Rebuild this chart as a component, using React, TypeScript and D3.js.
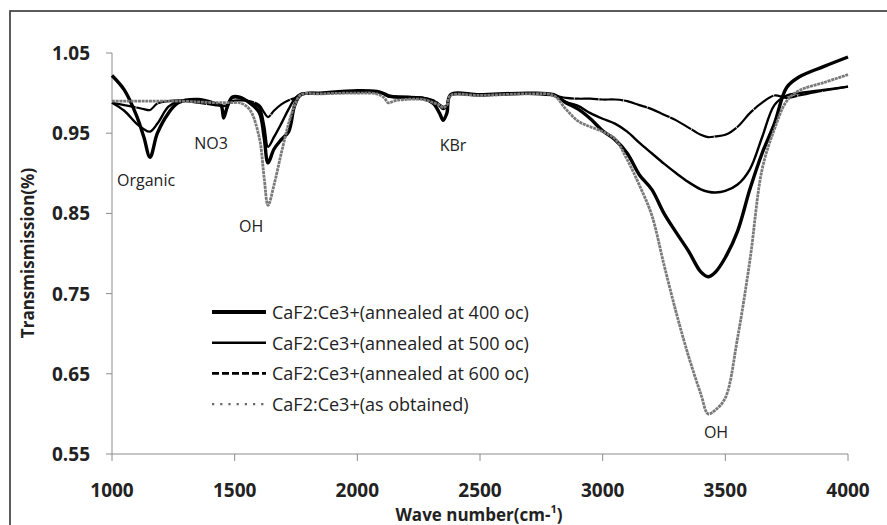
import * as d3 from 'd3';

const WIDTH = 887;
const HEIGHT = 525;
const MARGIN = { top: 53, right: 39, bottom: 71, left: 112 };

// wave numbers (cm-1) shared by every series
const wave = [
  1000, 1050, 1100, 1130, 1155, 1185, 1230, 1270, 1350, 1420, 1445, 1455, 1470, 1490, 1520, 1560,
  1600, 1620, 1636, 1660, 1690, 1720, 1745, 1770, 1850, 2000, 2080, 2110, 2125, 2160, 2270, 2310,
  2335, 2350, 2365, 2380, 2500, 2700, 2800, 2850, 2900, 2950, 3000, 3050, 3100, 3150, 3200, 3250,
  3300, 3350, 3400, 3430, 3460, 3500, 3550, 3600, 3650, 3700, 3750, 3800, 3900, 4000,
];

const annealed400 = [
  1.022, 1.004, 0.972, 0.945, 0.92, 0.95, 0.975, 0.988, 0.992, 0.987, 0.984, 0.969, 0.983, 0.995, 0.995, 0.988,
  0.976, 0.945, 0.913, 0.93, 0.942, 0.952, 0.985, 0.998, 1.0, 1.003, 1.002, 0.999, 0.997, 0.995, 0.993, 0.987,
  0.975, 0.966, 0.975, 0.998, 0.998, 1.0, 0.998, 0.988, 0.98, 0.968, 0.953, 0.942, 0.925, 0.898, 0.88, 0.85,
  0.826, 0.803, 0.777, 0.771, 0.777, 0.795, 0.828, 0.88, 0.925, 0.962, 1.007, 1.02, 1.033, 1.045,
];

const annealed500 = [
  0.988, 0.978, 0.962, 0.955, 0.952, 0.962, 0.983, 0.99, 0.99, 0.986, 0.985, 0.984, 0.985, 0.994, 0.994, 0.989,
  0.982, 0.96, 0.933, 0.945, 0.962, 0.98, 0.993, 0.999, 1.0, 1.002, 1.002, 0.999, 0.996, 0.995, 0.994, 0.99,
  0.984, 0.98, 0.984, 0.998, 0.998, 1.0, 0.998, 0.989, 0.984, 0.975, 0.968, 0.962, 0.952, 0.938, 0.925, 0.912,
  0.9, 0.889, 0.88, 0.877, 0.876, 0.878, 0.886, 0.905, 0.945, 0.985, 0.997, 1.0, 1.004, 1.008,
];

const annealed600 = [
  0.988, 0.985, 0.982, 0.98, 0.979, 0.987, 0.99, 0.991, 0.988, 0.985, 0.984, 0.984, 0.985, 0.99, 0.991, 0.99,
  0.985, 0.976, 0.97, 0.978, 0.986, 0.991, 0.994, 0.998, 1.0, 1.001, 1.001, 0.999, 0.996, 0.996, 0.994, 0.991,
  0.986, 0.983, 0.985, 0.997, 0.997, 0.999, 0.997, 0.994, 0.993, 0.993, 0.992, 0.992, 0.99, 0.985, 0.98, 0.973,
  0.966, 0.957, 0.948, 0.945, 0.946, 0.948, 0.958, 0.975, 0.988, 0.997, 0.994, 0.997, 1.003, 1.008,
];

const asObtained = [
  0.99, 0.99, 0.99, 0.99, 0.99, 0.99, 0.99, 0.99, 0.989, 0.988, 0.988, 0.988, 0.988, 0.988, 0.988, 0.98,
  0.945, 0.895, 0.86, 0.885, 0.925, 0.962, 0.985, 0.998, 0.999, 1.0, 0.999, 0.994, 0.988, 0.991, 0.992, 0.988,
  0.985, 0.982, 0.985, 0.997, 0.997, 0.999, 0.997, 0.98, 0.965, 0.958, 0.952, 0.943, 0.917, 0.885, 0.848, 0.786,
  0.726, 0.672, 0.625, 0.6, 0.605, 0.62, 0.695, 0.791, 0.905, 0.955, 0.99, 1.003, 1.013, 1.023,
];

const xTicks = [1000, 1500, 2000, 2500, 3000, 3500, 4000];
const yTicks = [0.55, 0.65, 0.75, 0.85, 0.95, 1.05];

const legendLabels = [
  'CaF2:Ce3+(annealed at 400 oc)',
  'CaF2:Ce3+(annealed at 500 oc)',
  'CaF2:Ce3+(annealed at 600 oc)',
  'CaF2:Ce3+(as obtained)',
];

// band labels placed in data coordinates
const bandText = ['Organic', 'NO3', 'OH', 'KBr', 'OH'];
const bandWave = [1139, 1404, 1567, 2390, 3462];
const bandValue = [0.892, 0.938, 0.834, 0.935, 0.577];

const SERIES_STYLE = [
  { stroke: '#000', width: 3.4, dash: undefined },
  { stroke: '#000', width: 2.4, dash: undefined },
  { stroke: '#000', width: 2.2, dash: '24 0.7' },
  { stroke: '#7a7a7a', width: 2.8, dash: '3 0.7' },
];

const LEGEND_STYLE = [
  { w: 4, dash: undefined, c: '#000' },
  { w: 2.6, dash: undefined, c: '#000' },
  { w: 2.6, dash: '7 3', c: '#000' },
  { w: 2.2, dash: '2.2 6', c: '#666' },
];

export default function App() {
  const x = d3.scaleLinear().domain([1000, 4000]).range([MARGIN.left, WIDTH - MARGIN.right]);
  const y = d3.scaleLinear().domain([0.55, 1.05]).range([HEIGHT - MARGIN.bottom, MARGIN.top]);

  const series = [annealed400, annealed500, annealed600, asObtained];
  const line = d3
    .line<number>()
    .x((_, i) => x(wave[i]))
    .y((d) => y(d))
    .curve(d3.curveCatmullRom.alpha(0.5));

  const font = "'Open Sans', sans-serif";
  const axisColor = '#8c8c8c';
  const y0 = y(0.55);

  return (
    <div style={{ position: 'absolute', left: 0, top: 0 }}>
      <svg width={WIDTH} height={HEIGHT} style={{ display: 'block', background: '#fff' }}>
        {/* outer frame */}
        <rect x={10} y={11} width={WIDTH + 20} height={HEIGHT + 20} fill="none" stroke="#333" strokeWidth={1.6} />

        {/* axes */}
        <line x1={x(1000)} x2={x(1000)} y1={y(1.05)} y2={y0} stroke={axisColor} strokeWidth={1} />
        <line x1={x(1000)} x2={x(4000)} y1={y0} y2={y0} stroke={axisColor} strokeWidth={1} />
        {yTicks.map((t) => (
          <g key={t}>
            <line x1={x(1000) - 6} x2={x(1000)} y1={y(t)} y2={y(t)} stroke={axisColor} />
            <text
              x={x(1000) - 22}
              y={y(t)}
              textAnchor="end"
              dominantBaseline="central"
              fontFamily={font}
              fontWeight={700}
              fontSize={19}
              fill="#222"
            >
              {t.toFixed(2)}
            </text>
          </g>
        ))}
        {xTicks.map((t) => (
          <g key={t}>
            <line x1={x(t)} x2={x(t)} y1={y0} y2={y0 + 7} stroke={axisColor} />
            <text
              x={x(t)}
              y={y0 + 36}
              textAnchor="middle"
              dominantBaseline="central"
              fontFamily={font}
              fontWeight={700}
              fontSize={19}
              fill="#222"
            >
              {t}
            </text>
          </g>
        ))}

        <text
          x={479}
          y={514}
          textAnchor="middle"
          dominantBaseline="central"
          fontFamily={font}
          fontWeight={700}
          fontSize={17}
          fill="#222"
        >
          Wave number(cm-<tspan fontSize={11} dy={-6}>1</tspan>
          <tspan dy={6}>)</tspan>
        </text>
        <text
          transform="translate(27,253) rotate(-90)"
          textAnchor="middle"
          dominantBaseline="central"
          fontFamily={font}
          fontWeight={700}
          fontSize={17}
          fill="#222"
        >
          Transmismission(%)
        </text>

        {/* spectra */}
        {series.map((s, i) => (
          <path
            key={i}
            d={line(s) ?? ''}
            fill="none"
            stroke={SERIES_STYLE[i].stroke}
            strokeWidth={SERIES_STYLE[i].width}
            strokeDasharray={SERIES_STYLE[i].dash}
            strokeLinejoin="round"
          />
        ))}

        {/* band labels */}
        {bandText.map((t, i) => (
          <text
            key={i}
            x={x(bandWave[i])}
            y={y(bandValue[i])}
            textAnchor="middle"
            dominantBaseline="central"
            fontFamily={font}
            fontSize={16}
            fill="#222"
          >
            {t}
          </text>
        ))}

        {/* legend */}
        {legendLabels.map((label, i) => {
          const ly = 312 + i * 30.7;
          const st = LEGEND_STYLE[i];
          return (
            <g key={label}>
              <line x1={212} x2={266} y1={ly} y2={ly} stroke={st.c} strokeWidth={st.w} strokeDasharray={st.dash} />
              <text x={272} y={ly} dominantBaseline="central" fontFamily={font} fontSize={18} fill="#222">
                {label}
              </text>
            </g>
          );
        })}
      </svg>
    </div>
  );
}
